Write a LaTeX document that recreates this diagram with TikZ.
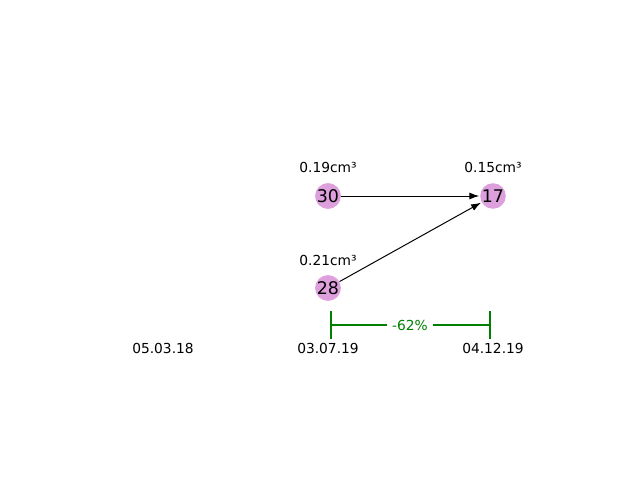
\documentclass[tikz,border=0pt]{standalone}
\usepackage{fontspec}
\setmainfont{DejaVu Sans}
\usepackage{xcolor}
\definecolor{volplum}{RGB}{221,160,221}
\definecolor{pctgreen}{RGB}{0,128,0}
\usepackage{tikz}
\usetikzlibrary{arrows.meta,positioning}
\tikzset{
  lesion/.style={circle, minimum size=0.6cm, inner sep=0pt, fill=volplum,
                 font=\fontsize{12.4}{13}\selectfont},
  vollabel/.style={font=\fontsize{9.8}{10}\selectfont},
  datelabel/.style={font=\fontsize{9.8}{10}\selectfont},
  growth/.style={-{Latex[length=7pt,width=5pt]}, line width=0.7pt, shorten >=0.5pt},
  bracket/.style={pctgreen, line width=1.5pt},
}

\begin{document}
\begin{tikzpicture}[x=0.025cm,y=-0.025cm]
  \useasboundingbox (0,0) rectangle (640,480);
  % lesions
  \node[lesion] (l30) at (328,196) {30};
  \node[lesion] (l17) at (493,196) {17};
  \node[lesion] (l28) at (328,288) {28};
  % volumes
  \node[vollabel] (v30) at (328,167) {0.19cm³};
  \node[vollabel] (v17) at (493,167) {0.15cm³};
  \node[vollabel] (v28) at (328,260) {0.21cm³};
  % edges
  \draw[growth] (l30) -- (l17);
  \draw[growth] (l28) -- (l17);
  % dates
  \foreach \x/\d in {163/05.03.18, 328/03.07.19, 493/04.12.19}
    \node[datelabel] (d\x) at (\x,348) {\d};
  % change bracket
  \coordinate (bl) at (331,325);
  \coordinate (br) at (490,325);
  \node[vollabel, text=pctgreen, inner sep=3.5pt] (pct) at (410,325) {-62\%};
  \draw[bracket] (331,311) -- (331,339);
  \draw[bracket] (490,311) -- (490,339);
  \draw[bracket] (bl) -- (pct.west);
  \draw[bracket] (pct.east) -- (br);
\end{tikzpicture}
\end{document}
